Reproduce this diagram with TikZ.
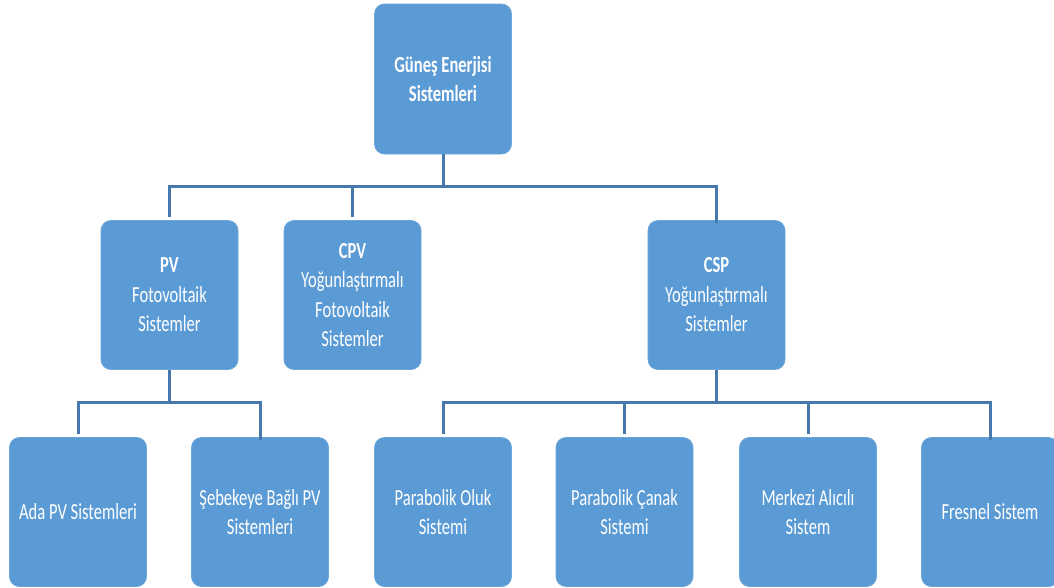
\documentclass[tikz,border=0pt]{standalone}
\usepackage{fontspec}
\setmainfont{Carlito}[FakeStretch=0.72]
\definecolor{boxblue}{HTML}{5B9BD5}
\definecolor{lineblue}{HTML}{4677AD}
\tikzset{
  orgbox/.style={rectangle, rounded corners=10pt, fill=boxblue, draw=boxblue!90!white, line width=0.8pt,
    minimum width=137pt, minimum height=149pt, text=white, align=center, inner sep=2pt,
    font=\fontsize{23}{29.5}\selectfont},
  conn/.style={draw=lineblue, line width=3pt, line join=miter},
  drop/.style={conn, shorten <=3pt}
}
\begin{document}
\begin{tikzpicture}[x=1pt,y=-1pt]
\useasboundingbox (0,0) rectangle (1054,587);
\clip (0,0) rectangle (1054,587);
\node[orgbox, minimum height=150pt] (top) at (443,79) {\textbf{Güneş Enerjisi}\\\textbf{Sistemleri}};
\node[orgbox] (pv) at (169.5,295) {\textbf{PV}\\Fotovoltaik\\Sistemler};
\node[orgbox] (cpv) at (352.5,295) {\textbf{CPV}\\Yoğunlaştırmalı\\Fotovoltaik\\Sistemler};
\node[orgbox] (csp) at (716.5,295) {\textbf{CSP}\\Yoğunlaştırmalı\\Sistemler};
\node[orgbox] (ada) at (78,512) {Ada PV Sistemleri};
\node[orgbox] (seb) at (260,512) {Şebekeye Bağlı PV\\Sistemleri};
\node[orgbox] (oluk) at (443,512) {Parabolik Oluk\\Sistemi};
\node[orgbox] (canak) at (624.5,512) {Parabolik Çanak\\Sistemi};
\node[orgbox] (merkezi) at (808,512) {Merkezi Alıcılı\\Sistem};
\node[orgbox] (fresnel) at (990,512) {Fresnel Sistem};
\coordinate (bus1) at (443,186);
\coordinate (bus2) at (169.5,402);
\coordinate (bus3) at (716.5,402);
\draw[conn] (top.south) -- (bus1);
\draw[drop] (pv.north) |- (bus1) -| ([yshift=-3pt]csp.north);
\draw[drop] (cpv.north) -- (cpv.north |- bus1);
\draw[conn] (pv.south) -- (bus2);
\draw[drop] (ada.north) |- (bus2) -| ([yshift=-3pt]seb.north);
\draw[conn] (csp.south) -- (bus3);
\draw[drop] (oluk.north) |- (bus3) -| ([yshift=-3pt]fresnel.north);
\draw[drop] (canak.north) -- (canak.north |- bus3);
\draw[drop] (merkezi.north) -- (merkezi.north |- bus3);
\end{tikzpicture}
\end{document}
